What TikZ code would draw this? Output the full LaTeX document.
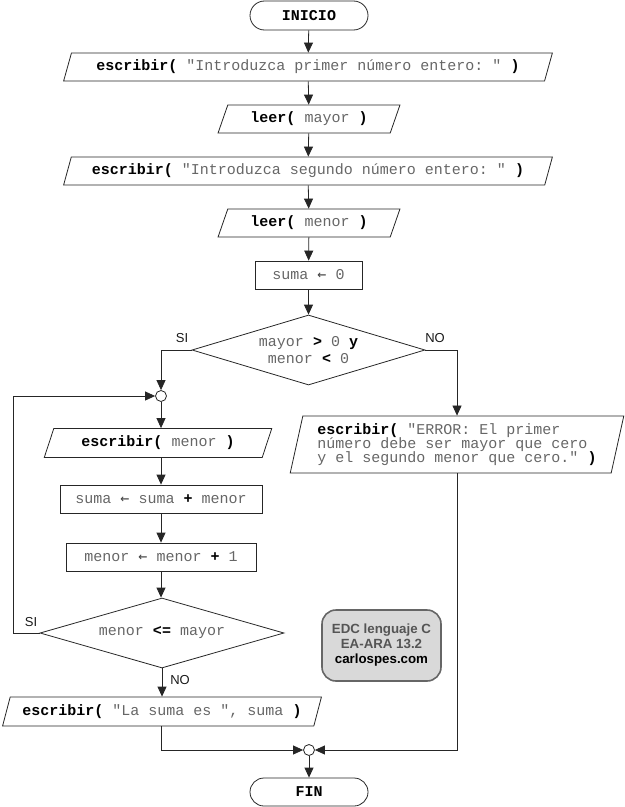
\documentclass[tikz,border=0pt]{standalone}
\usepackage{fontspec}
\setmainfont{Liberation Sans}
\setsansfont{Liberation Sans}
\setmonofont{Liberation Mono}
\newfontfamily\arrfont{DejaVu Sans Mono}
\usetikzlibrary{shapes.geometric,arrows.meta}
\definecolor{codegray}{HTML}{666666}
\definecolor{wmfill}{HTML}{D9D9D9}
\definecolor{wmline}{HTML}{666666}
\definecolor{wmtext}{HTML}{555555}
\newcommand\kwd[1]{{\bfseries\color{black}#1}}
\newcommand\asg{{\arrfont\color{black!75}←}}
\tikzset{
  base/.style={draw=black!85, line width=0.8bp, inner sep=0pt, text=codegray,
    font=\ttfamily\fontsize{15bp}{14.3bp}\selectfont},
  term/.style={base, rounded corners=14.5bp, minimum width=118bp, minimum height=29bp, text=black, font=\ttfamily\bfseries\fontsize{15bp}{14.3bp}\selectfont},
  io/.style={base, trapezium, trapezium left angle=63.4, trapezium right angle=116.6,
    trapezium stretches=true, minimum height=28bp},
  proc/.style={base, rectangle, minimum height=28bp},
  cond/.style={base, diamond, minimum height=70bp, align=center},
  joint/.style={draw=black!85, line width=0.8bp, circle, inner sep=0pt, minimum size=11bp, fill=white},
  lbl/.style={font=\fontsize{13bp}{15bp}\selectfont, text=black!90, inner sep=0pt},
  arr/.style={draw=black!85, line width=0.8bp, -{Triangle[length=10bp,width=9bp]}},
  wm/.style={draw=wmline, line width=1.6bp, fill=wmfill, rounded corners=14bp,
    minimum width=119bp, minimum height=71bp, align=center,
    font=\sffamily\bfseries\fontsize{13.3bp}{15bp}\selectfont, text=wmtext}
}
\begin{document}
\begin{tikzpicture}[x=1bp,y=-1bp]
\useasboundingbox (0,0) rectangle (625,807);
\node[term] (ini) at (309,15.5) {INICIO};
\node[io, minimum width=490bp] (p1) at (308,67) {\kwd{escribir(} "Introduzca primer número entero: " \kwd{)}};
\node[io, minimum width=182bp] (p2) at (309,119) {\kwd{leer(} mayor \kwd{)}};
\node[io, minimum width=490bp] (p3) at (308,171) {\kwd{escribir(} "Introduzca segundo número entero: " \kwd{)}};
\node[io, minimum width=182bp] (p4) at (309,223) {\kwd{leer(} menor \kwd{)}};
\node[proc, minimum width=107bp] (s0) at (308.5,275) {suma \asg{} 0};
\node[cond, minimum width=233bp, aspect=3.33, font=\ttfamily\fontsize{15bp}{17.6bp}\selectfont] (d1) at (308.5,350) {mayor \kwd{>} 0 \kwd{y}\\menor \kwd{<} 0};
\node[joint] (c1) at (161,396) {};
\node[io, minimum width=228bp, minimum height=29bp] (p5) at (158,443) {\kwd{escribir(} menor \kwd{)}};
\node[proc, minimum width=202bp] (r1) at (161,499) {suma \asg{} suma \kwd{+} menor};
\node[proc, minimum width=190bp] (r2) at (161,557) {menor \asg{} menor \kwd{+} 1};
\node[cond, minimum width=244bp, aspect=3.49] (d2) at (162,633) {menor \kwd{<=} mayor};
\node[io, minimum width=320bp, minimum height=29bp] (p6) at (162,711.5) {\kwd{escribir(} "La suma es ", suma \kwd{)}};
\node[io, minimum width=334bp, minimum height=57bp, trapezium left angle=75, trapezium right angle=105, align=left] (err) at (457,444.5)
  {\kwd{escribir(} "ERROR: El primer\\número debe ser mayor que cero\\y el segundo menor que cero." \kwd{)}};
\node[joint] (c2) at (309,750) {};
\node[term, minimum height=28bp, rounded corners=14bp] (fin) at (309,792) {FIN};
\node[wm] (wmk) at (381.5,645.5) {EDC lenguaje C\\EA-ARA 13.2\\\textcolor{black}{carlospes.com}};

\draw[arr] (ini) -- (p1);
\draw[arr] (p1) -- (p2);
\draw[arr] (p2) -- (p3);
\draw[arr] (p3) -- (p4);
\draw[arr] (p4) -- (s0);
\draw[arr] (s0) -- (d1);
\draw[arr] (d1.west) -| (c1.north);
\draw[arr] (d1.east) -| (err.north);
\draw[arr] (c1) -- (p5.north -| c1);
\draw[arr] (p5.south -| c1) -- (r1);
\draw[arr] (r1) -- (r2);
\draw[arr] (r2.south) -- (d2.north -| r2.south);
\draw[arr] (d2.west) -- ++(-26,0) |- (c1.west);
\draw[arr] (d2.south) -- (p6.north -| d2.south);
\draw[arr] (p6.south -| c1) |- (c2.west);
\draw[arr] (err.south) |- (c2.east);
\draw[arr] (c2) -- (fin);

\node[lbl] (si1) at (182,338) {SI};
\node[lbl] (no1) at (435,338) {NO};
\node[lbl] (si2) at (31,622) {SI};
\node[lbl] (no2) at (180,680) {NO};
\end{tikzpicture}
\end{document}
